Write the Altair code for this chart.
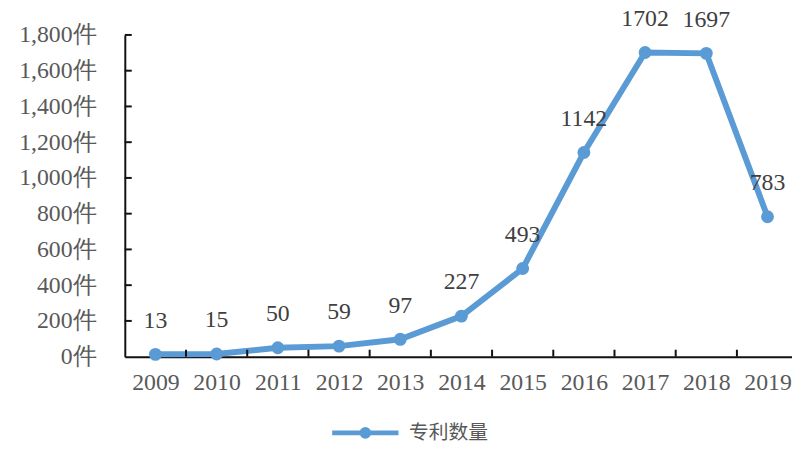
import altair as alt
import pandas as pd

years = [2009, 2010, 2011, 2012, 2013, 2014, 2015, 2016, 2017, 2018, 2019]
counts = [13, 15, 50, 59, 97, 227, 493, 1142, 1702, 1697, 783]
series_name = "专利数量"
y_ticks = [0, 200, 400, 600, 800, 1000, 1200, 1400, 1600, 1800]

df = pd.DataFrame({"year": years, "count": counts, "series": [series_name] * len(years)})
ytick_df = pd.DataFrame({"v": y_ticks[1:]})
xtick_df = pd.DataFrame({"b": [y + 0.5 for y in years[:-1]]})

W, H = 674, 325
BLUE = "#5B9BD5"
SERIF = "Liberation Serif"

xscale = alt.Scale(domain=[2008.5, 2019.4], nice=False, zero=False)
yscale = alt.Scale(domain=[0, 1800], nice=False)

xaxis = alt.Axis(values=years, format="d", ticks=False, tickSize=0, grid=False,
                 labelPadding=14, labelFont=SERIF, labelFontSize=24, labelColor="#595959",
                 domainColor="#111111", domainWidth=2, title=None, labelOverlap=False,
                 labelFlush=False)
yaxis = alt.Axis(values=y_ticks, ticks=False, tickSize=0, grid=False,
                 labelExpr="format(datum.value, ',') + '件'", labelOverlap=False,
                 labelFlush=False, labelBound=False,
                 labelPadding=29, labelFont=SERIF, labelFontSize=24, labelColor="#595959",
                 domainColor="#111111", domainWidth=2, title=None)

legend_path = "M-1,0L1,0M-0.1,0A0.1,0.1,0,1,0,0.1,0A0.1,0.1,0,1,0,-0.1,0Z"

base = alt.Chart(df)

line = base.mark_line(strokeWidth=6).encode(
    x=alt.X("year:Q", scale=xscale, axis=xaxis),
    y=alt.Y("count:Q", scale=yscale, axis=yaxis),
    color=alt.Color("series:N", scale=alt.Scale(range=[BLUE]),
                    legend=alt.Legend(title=None, orient="none", legendX=207, legendY=366,
                                      symbolType=legend_path, symbolSize=4489,
                                      symbolStrokeWidth=5, symbolFillColor=BLUE,
                                      symbolStrokeColor=BLUE, labelFont="Noto Sans CJK SC",
                                      labelFontSize=20, labelColor="#595959",
                                      labelOffset=8, padding=0)),
)

points = base.mark_circle(size=170, opacity=1, color=BLUE).encode(
    x=alt.X("year:Q", scale=xscale, axis=xaxis),
    y=alt.Y("count:Q", scale=yscale, axis=yaxis),
)

labels = base.mark_text(dy=-34, font=SERIF, fontSize=24, color="#404040").encode(
    x=alt.X("year:Q", scale=xscale, axis=xaxis),
    y=alt.Y("count:Q", scale=yscale, axis=yaxis),
    text="count:Q",
)

yticks = alt.Chart(ytick_df).mark_rule(color="#111111", strokeWidth=2).encode(
    y=alt.Y("v:Q", scale=yscale, axis=yaxis), x=alt.value(0), x2=alt.value(7)
)
xticks = alt.Chart(xtick_df).mark_rule(color="#111111", strokeWidth=2).encode(
    x=alt.X("b:Q", scale=xscale, axis=xaxis), y=alt.value(H), y2=alt.value(H - 7)
)

chart = alt.layer(line, points, labels, yticks, xticks).properties(
    width=W, height=H, background="white",
    autosize=alt.AutoSizeParams(type="none"),
    padding={"left": 118, "top": 25, "right": 0, "bottom": 85},
).configure_view(stroke=None).configure_axis(labelOverlap=False)

chart.save("out.html", embed_options={"renderer": "svg", "actions": False})
